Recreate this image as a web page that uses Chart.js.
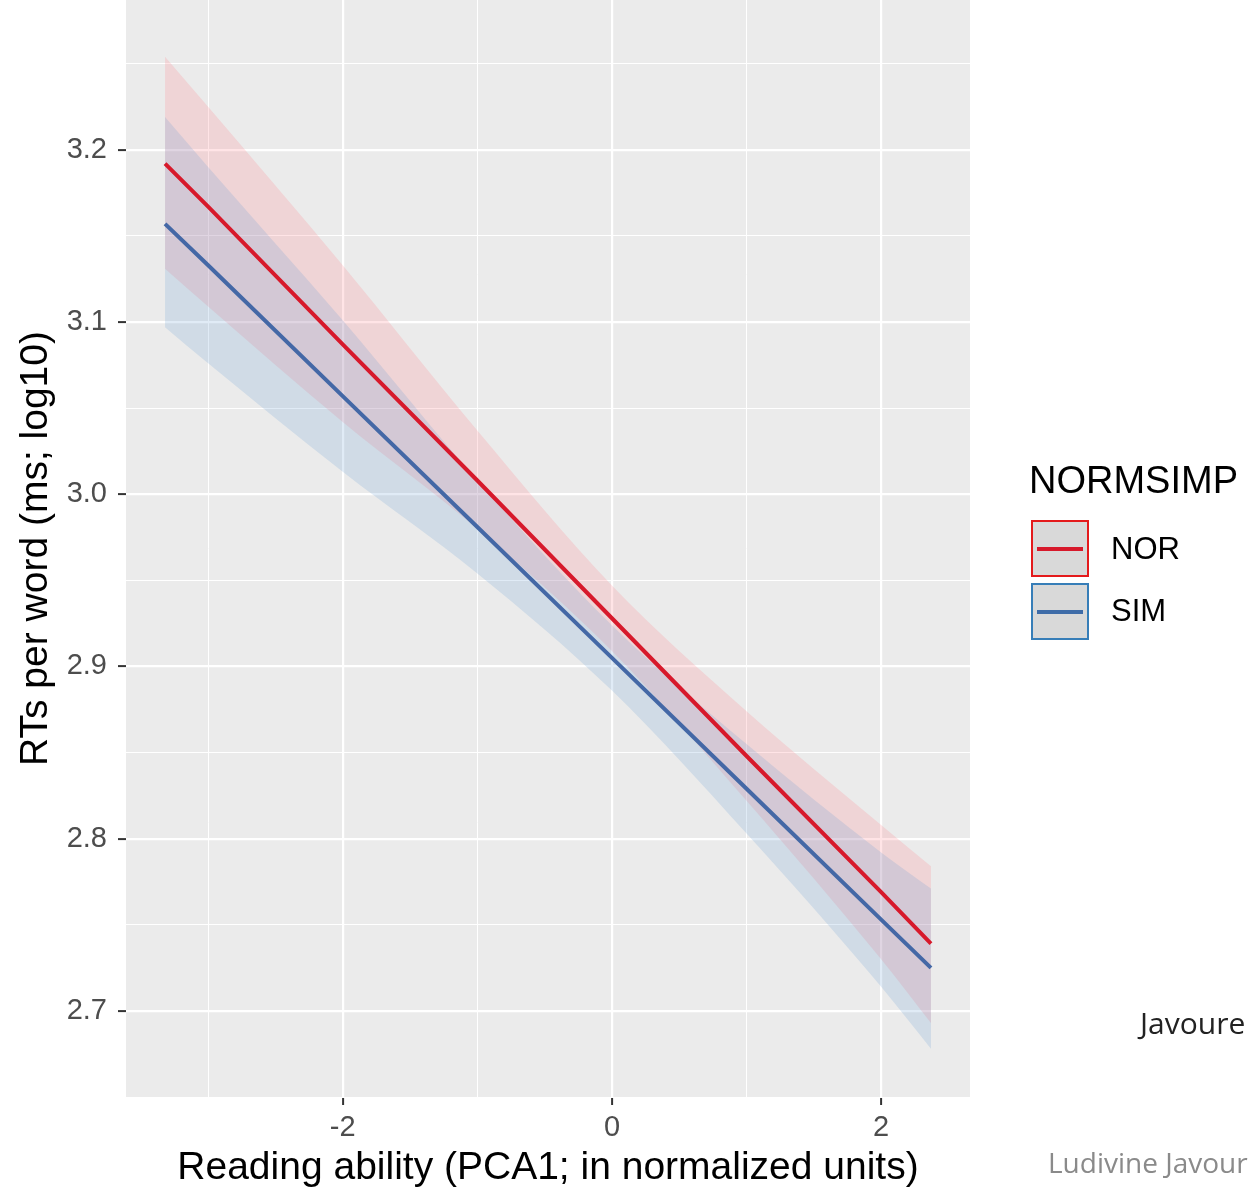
<!DOCTYPE html>
<html>
<head>
<meta charset="utf-8">
<script src="https://cdn.jsdelivr.net/npm/chart.js@4"></script>
<style>
  body { margin: 0; width: 1248px; height: 1192px; overflow: hidden; background: #fff; position: relative; font-family: "Liberation Sans", Arial, sans-serif; }
  #wrap { position: absolute; left: 0; top: 0; width: 1248px; height: 1192px; }
  .txt { position: absolute; white-space: nowrap; }
  .key { position: absolute; width: 58px; height: 57px; background: #d9d9d9; box-sizing: border-box; border: 2px solid; }
  .key div { position: absolute; left: 4px; right: 4px; top: 25px; height: 4px; }
</style>
</head>
<body>
<div id="wrap"><canvas id="c" width="1248" height="1192"></canvas></div>

<div class="txt" style="left:1029px;top:459px;font-size:38px;color:#000;">NORMSIMP</div>
<div class="key" style="left:1031px;top:520px;border-color:#e41a1c;"><div style="background:#d7192b"></div></div>
<div class="txt" style="left:1111px;top:531px;font-size:31px;color:#000;">NOR</div>
<div class="key" style="left:1031px;top:583px;border-color:#377eb8;"><div style="background:#3f6ca8"></div></div>
<div class="txt" style="left:1111px;top:593px;font-size:31px;color:#000;">SIM</div>

<div class="txt" style="left:1140px;top:1002px;font-size:30px;color:#222;font-family:'Open Sans','Noto Sans',sans-serif;">Javoure</div>
<div class="txt" style="left:1048px;top:1143px;font-size:28px;color:#8a8a8a;font-family:'Open Sans','Noto Sans',sans-serif;">Ludivine Javour</div>

<script>
// values
var xs = [-3.32, -3, -2, -1, 0, 1, 2, 2.37];
var norFit   = [3.192, 3.167, 3.087, 3.008, 2.928, 2.848, 2.769, 2.739];
var norUpper = [3.254, 3.225, 3.133, 3.037, 2.947, 2.874, 2.808, 2.784];
var norLower = [3.131, 3.109, 3.042, 2.980, 2.909, 2.822, 2.730, 2.693];
var simFit   = [3.157, 3.133, 3.057, 2.981, 2.905, 2.829, 2.753, 2.725];
var simUpper = [3.219, 3.190, 3.101, 3.008, 2.924, 2.855, 2.792, 2.771];
var simLower = [3.097, 3.076, 3.013, 2.954, 2.886, 2.803, 2.714, 2.678];

var xTicks = [-3, -2, -1, 0, 1, 2];
var xLabels = [-2, 0, 2];
var yTicks = [2.65, 2.7, 2.75, 2.8, 2.85, 2.9, 2.95, 3.0, 3.05, 3.1, 3.15, 3.2, 3.25];
var yLabels = [2.7, 2.8, 2.9, 3.0, 3.1, 3.2];

function pts(arr) {
  return xs.map(function(x, i) { return { x: x, y: arr[i] }; });
}
function isLabel(list, v) {
  return list.some(function(l) { return Math.abs(l - v) < 1e-6; });
}

var panelBg = {
  id: 'panelBg',
  beforeDraw: function(chart) {
    var a = chart.chartArea, ctx = chart.ctx;
    ctx.save();
    ctx.fillStyle = '#ebebeb';
    ctx.fillRect(a.left, a.top, a.right - a.left, a.bottom - a.top);
    ctx.restore();
  }
};

var bandNor = 'rgba(255,120,130,0.2)';
var bandSim = 'rgba(100,155,210,0.2)';

new Chart(document.getElementById('c').getContext('2d'), {
  type: 'line',
  data: {
    datasets: [
      { label: 'NOR', data: pts(norFit), borderColor: '#d7192b', borderWidth: 4, pointRadius: 0, fill: false, order: 1 },
      { label: 'SIM', data: pts(simFit), borderColor: '#4468a6', borderWidth: 4, pointRadius: 0, fill: false, order: 1 },
      { label: 'norUp', data: pts(norUpper), borderWidth: 0, borderColor: 'rgba(0,0,0,0)', pointRadius: 0, fill: '+1', backgroundColor: bandNor, cubicInterpolationMode: 'monotone', order: 3 },
      { label: 'norLo', data: pts(norLower), borderWidth: 0, borderColor: 'rgba(0,0,0,0)', pointRadius: 0, fill: false, cubicInterpolationMode: 'monotone', order: 3 },
      { label: 'simUp', data: pts(simUpper), borderWidth: 0, borderColor: 'rgba(0,0,0,0)', pointRadius: 0, fill: '+1', backgroundColor: bandSim, cubicInterpolationMode: 'monotone', order: 2 },
      { label: 'simLo', data: pts(simLower), borderWidth: 0, borderColor: 'rgba(0,0,0,0)', pointRadius: 0, fill: false, cubicInterpolationMode: 'monotone', order: 2 }
    ]
  },
  options: {
    responsive: false,
    animation: false,
    layout: { padding: { top: 0, right: 278, bottom: 0, left: 0 } },
    plugins: { legend: { display: false }, tooltip: { enabled: false } },
    scales: {
      x: {
        type: 'linear',
        min: -3.61, max: 2.66,
        afterBuildTicks: function(s) { s.ticks = xTicks.map(function(v) { return { value: v }; }); },
        afterFit: function(s) { s.height = 95; s.paddingLeft = 0; s.paddingRight = 0; },
        border: { display: false },
        grid: {
          color: '#ffffff',
          lineWidth: function(c) { return isLabel(xLabels, c.tick.value) ? 2.2 : 1; },
          tickColor: function(c) { return isLabel(xLabels, c.tick.value) ? '#333333' : 'rgba(0,0,0,0)'; },
          tickLength: 8, tickWidth: 2
        },
        ticks: {
          autoSkip: false, maxRotation: 0, padding: 6,
          color: '#4d4d4d', font: { family: 'Liberation Sans', size: 29 },
          callback: function(v) { return isLabel(xLabels, v) ? String(v) : ''; }
        },
        title: {
          display: true, text: 'Reading ability (PCA1; in normalized units)',
          color: '#000', font: { family: 'Liberation Sans', size: 39 }, padding: { top: 0, bottom: 0 }
        }
      },
      y: {
        type: 'linear',
        min: 2.65, max: 3.287,
        afterBuildTicks: function(s) { s.ticks = yTicks.map(function(v) { return { value: v }; }); },
        afterFit: function(s) { s.width = 126; s.paddingTop = 0; s.paddingBottom = 0; },
        border: { display: false },
        grid: {
          color: '#ffffff',
          lineWidth: function(c) { return isLabel(yLabels, c.tick.value) ? 2.2 : 1; },
          tickColor: function(c) { return isLabel(yLabels, c.tick.value) ? '#333333' : 'rgba(0,0,0,0)'; },
          tickLength: 8, tickWidth: 2
        },
        ticks: {
          autoSkip: false, padding: 11,
          color: '#4d4d4d', font: { family: 'Liberation Sans', size: 29 },
          callback: function(v) { return isLabel(yLabels, v) ? v.toFixed(1) : ''; }
        },
        title: {
          display: true, text: 'RTs per word (ms; log10)',
          color: '#000', font: { family: 'Liberation Sans', size: 39 }, padding: { top: 13, bottom: 0 }
        }
      }
    }
  },
  plugins: [panelBg]
});
</script>
</body>
</html>
